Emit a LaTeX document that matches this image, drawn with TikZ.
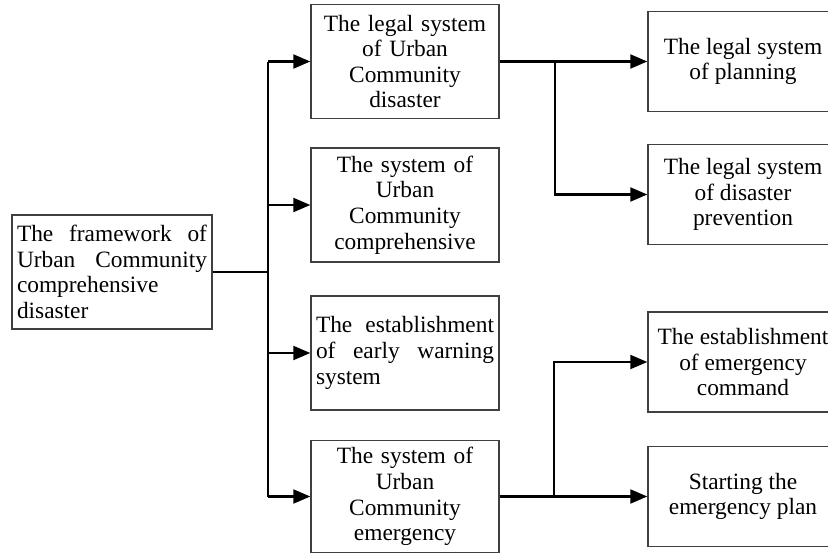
\documentclass[tikz,border=0pt]{standalone}
\usepackage{fontspec}
\setmainfont{Liberation Serif}
\usetikzlibrary{arrows.meta}

\begin{document}
\begin{tikzpicture}[every node/.style={font=\fontsize{13.3}{14.6}\selectfont, align=center},
    midbox/.style={draw=black!75, line width=0.8pt, fill=white, text width=3.56cm,
                   inner xsep=0.1cm, minimum height=2.28cm},
    sidebox/.style={draw=black!75, line width=0.8pt, fill=white, minimum width=3.8cm,
                    minimum height=2.0cm},
    wire/.style={line width=1.2pt},
    link/.style={wire, -{Triangle[length=0.34cm, width=0.28cm]}}]
  \clip (0,0) rectangle (16.56,-11.08);

  % left root
  \node[draw=black!75, line width=0.8pt, fill=white, text width=3.8cm, inner xsep=0.1cm,
        minimum height=2.28cm, align=left] (frame) at (2.24,-5.44)
        {The\hfill framework\hfill of\\Urban\hfill Community\\comprehensive\\disaster};

  % middle column
  \node[midbox] (legal) at (8.10,-1.23) {The legal system\\of Urban\\Community\\disaster};
  \node[midbox] (compr) at (8.10,-4.10) {The system of\\Urban\\Community\\comprehensive};
  \node[midbox, align=left] (warn) at (8.10,-7.06)
        {The\hfill establishment\\of\hfill early\hfill warning\\system};
  \node[midbox, minimum height=2.24cm] (emerg) at (8.10,-9.93)
        {The system of\\Urban\\Community\\emergency};

  % right column
  \node[sidebox] (planning) at (14.86,-1.23) {The legal system\\of planning};
  \node[sidebox] (prevent) at (14.86,-3.89) {The legal system\\of disaster\\prevention};
  \node[sidebox] (command) at (14.86,-7.24) {The establishment\\of emergency\\command};
  \node[sidebox] (plan) at (14.86,-9.93) {Starting the\\emergency plan};

  % trunk
  \coordinate (hub) at (5.36,-5.44);
  \coordinate (forkA) at (11.10,-1.23);
  \coordinate (forkB) at (11.08,-9.93);
  \draw[wire] (frame.east) -- (hub);
  \draw[wire] (hub |- legal.west) -- (hub |- emerg.west);
  \draw[link] (hub |- legal.west) -- (legal.west);
  \draw[link] (hub |- compr.west) -- (compr.west);
  \draw[link] (hub |- warn.west) -- (warn.west);
  \draw[link] (hub |- emerg.west) -- (emerg.west);

  % branches
  \draw[link] (legal.east) -- (planning.west);
  \draw[link] (forkA) |- (prevent.west);
  \draw[link] (emerg.east) -- (plan.west);
  \draw[link] (forkB) |- (command.west);
\end{tikzpicture}
\end{document}
